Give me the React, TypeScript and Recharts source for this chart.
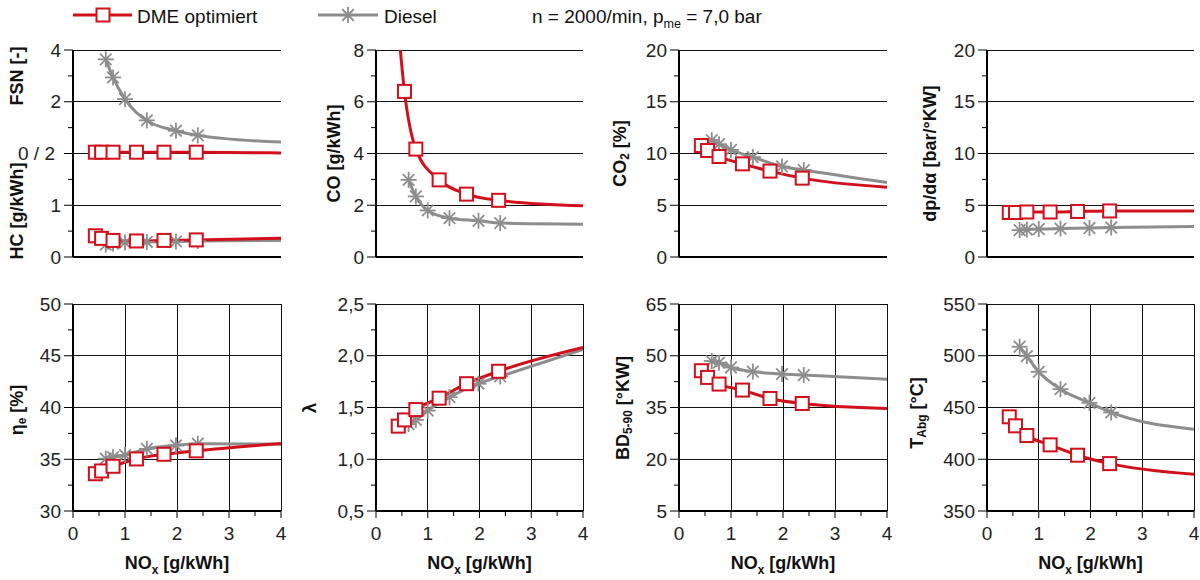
import React from 'react';
import { LineChart, Line, XAxis, YAxis, CartesianGrid } from 'recharts';

const RED = '#d2101b';
const GRAY = '#8d8d8d';
const FONT = '"Liberation Sans", Arial, sans-serif';

// NOx [g/kWh] of the measured points; the last entry is the end of the fitted curve (no marker)
const noxDme = [0.43, 0.55, 0.77, 1.22, 1.75, 2.37, 4.0];
const noxDiesel = [0.63, 0.77, 1.0, 1.42, 1.98, 2.4, 4.0];

const fsnDme = [0.05, 0.05, 0.05, 0.05, 0.05, 0.05, 0.02];
const fsnDiesel = [3.64, 2.94, 2.1, 1.28, 0.88, 0.7, 0.44];
const hcDme = [0.41, 0.36, 0.32, 0.31, 0.32, 0.33, 0.36];
const hcDiesel = [0.24, 0.26, 0.28, 0.29, 0.3, 0.31, 0.32];
const coDme = [8.9, 6.4, 4.17, 2.98, 2.43, 2.19, 1.98];
const coDiesel = [2.98, 2.34, 1.8, 1.5, 1.4, 1.31, 1.27];
const co2Dme = [10.77, 10.29, 9.71, 9.0, 8.3, 7.62, 6.75];
const co2Diesel = [11.3, 10.9, 10.35, 9.65, 8.75, 8.4, 7.2];
const dpDme = [4.3, 4.3, 4.35, 4.35, 4.4, 4.45, 4.45];
const dpDiesel = [2.6, 2.65, 2.7, 2.75, 2.8, 2.85, 2.95];
const etaDme = [33.6, 33.87, 34.32, 35.03, 35.48, 35.81, 36.52];
const etaDiesel = [35.06, 35.2, 35.4, 36.0, 36.35, 36.5, 36.45];
const lambdaDme = [1.32, 1.38, 1.48, 1.59, 1.73, 1.85, 2.08];
const lambdaDiesel = [1.34, 1.38, 1.47, 1.6, 1.73, 1.8, 2.06];
const bdDme = [45.66, 43.72, 41.79, 40.05, 37.62, 36.17, 34.72];
const bdDiesel = [48.47, 47.98, 46.6, 45.4, 44.7, 44.4, 43.2];
const tDme = [441, 432.3, 422.9, 413.9, 403.9, 395.8, 385.5];
const tDiesel = [508.7, 499.7, 484.5, 467.7, 454.5, 445.2, 429];

// axis ticks
const xTicks = [0, 0.5, 1, 1.5, 2, 2.5, 3, 3.5, 4];
const xMajors = [0, 1, 2, 3, 4];
const xLabels = ['0', '1', '2', '3', '4'];

const ticksFsnHc = [0, 0.5, 1, 1.5, 2, 2.5, 3, 3.5, 4];
const majorsFsnHc = [0, 1, 2, 3, 4];
const labelsFsnHc = ['0', '1', '0 / 2', '2', '4'];
const ticksCo = [0, 1, 2, 3, 4, 5, 6, 7, 8];
const majorsCo = [0, 2, 4, 6, 8];
const labelsCo = ['0', '2', '4', '6', '8'];
const ticks20 = [0, 2.5, 5, 7.5, 10, 12.5, 15, 17.5, 20];
const majors20 = [0, 5, 10, 15, 20];
const labels20 = ['0', '5', '10', '15', '20'];
const ticksEta = [30, 32.5, 35, 37.5, 40, 42.5, 45, 47.5, 50];
const majorsEta = [30, 35, 40, 45, 50];
const labelsEta = ['30', '35', '40', '45', '50'];
const ticksLambda = [0.5, 0.75, 1, 1.25, 1.5, 1.75, 2, 2.25, 2.5];
const majorsLambda = [0.5, 1, 1.5, 2, 2.5];
const labelsLambda = ['0,5', '1,0', '1,5', '2,0', '2,5'];
const ticksBd = [5, 12.5, 20, 27.5, 35, 42.5, 50, 57.5, 65];
const majorsBd = [5, 20, 35, 50, 65];
const labelsBd = ['5', '20', '35', '50', '65'];
const ticksT = [350, 375, 400, 425, 450, 475, 500, 525, 550];
const majorsT = [350, 400, 450, 500, 550];
const labelsT = ['350', '400', '450', '500', '550'];

const zip = (xs: number[], ys: number[]) => xs.map((x, i) => ({ x, y: ys[i] }));

const YW = 85;
const MT = 12;
const MR = 6;
const PH = 207;

type Part = [string, boolean];

const Rich = ({ parts, size }: { parts: Part[]; size: number }) => (
  <>
    {parts.map(([t, sub], i) => {
      const prevSub = i > 0 && parts[i - 1][1];
      const dy = sub ? size * 0.25 : prevSub ? -size * 0.25 : 0;
      return (
        <tspan key={i} dy={dy} fontSize={sub ? size * 0.66 : size}>
          {t}
        </tspan>
      );
    })}
  </>
);

const squareDot = (n: number) => (p: any) => {
  const { cx, cy, index } = p;
  if (index === n - 1 || cx == null || cy == null) return <g key={`d${index}`} />;
  return (
    <rect
      key={`d${index}`}
      x={cx - 6.5}
      y={cy - 6.5}
      width={13}
      height={13}
      fill="#fff"
      stroke={RED}
      strokeWidth={2}
    />
  );
};

const Asterisk = ({ cx, cy, r }: { cx: number; cy: number; r: number }) => {
  const d = r * 0.72;
  return (
    <g stroke={GRAY} strokeWidth={1.8}>
      <line x1={cx - r} y1={cy} x2={cx + r} y2={cy} />
      <line x1={cx} y1={cy - r} x2={cx} y2={cy + r} />
      <line x1={cx - d} y1={cy - d} x2={cx + d} y2={cy + d} />
      <line x1={cx - d} y1={cy + d} x2={cx + d} y2={cy - d} />
    </g>
  );
};

const starDot = (n: number) => (p: any) => {
  const { cx, cy, index } = p;
  if (index === n - 1 || cx == null || cy == null) return <g key={`s${index}`} />;
  return (
    <g key={`s${index}`}>
      <Asterisk cx={cx} cy={cy} r={8} />
    </g>
  );
};

const YTick = (props: any) => {
  const { y, payload, majors, labels, shiftIdx } = props;
  const i = majors.indexOf(payload.value);
  const major = i >= 0;
  const extra = major && i === shiftIdx ? 6 : 0;
  return (
    <g>
      <line x1={YW - (major ? 9 : 5)} y1={y} x2={YW} y2={y} stroke="#000" strokeWidth={1} />
      {major && (
        <text
          x={YW - 12 - extra}
          y={y + 6.7}
          textAnchor="end"
          fontFamily={FONT}
          fontSize={19}
          fill="#222"
        >
          {labels[i]}
        </text>
      )}
    </g>
  );
};

const XTick = (props: any) => {
  const { x, payload } = props;
  const i = xMajors.indexOf(payload.value);
  const major = i >= 0;
  const yb = MT + PH;
  return (
    <g>
      <line x1={x} y1={yb} x2={x} y2={yb + (major ? 7 : 5)} stroke="#000" strokeWidth={1} />
      {major && (
        <text x={x} y={yb + 29} textAnchor="middle" fontFamily={FONT} fontSize={19} fill="#222">
          {xLabels[i]}
        </text>
      )}
    </g>
  );
};

type TitleItem = { x: number; y: number; parts: Part[] };

type Series = { xs: number[]; ys: number[]; kind: 'dme' | 'diesel'; axis?: string };
type PanelCfg = {
  L: number;
  T: number;
  W: number;
  bottom: boolean;
  domain: [number, number];
  ticks: number[];
  majors: number[];
  labels: string[];
  shiftIdx?: number;
  titles: TitleItem[];
  series: Series[];
  fsnAxis?: boolean;
};

const panels: PanelCfg[] = [
  {
    L: 73, T: 50, W: 208, bottom: false, domain: [0, 4], ticks: ticksFsnHc, majors: majorsFsnHc, labels: labelsFsnHc, shiftIdx: 2,
    titles: [
      { x: 17, y: 76, parts: [['FSN [-]', false]] },
      { x: 17, y: 211, parts: [['HC [g/kWh]', false]] },
    ],
    fsnAxis: true,
    series: [
      { xs: noxDiesel, ys: fsnDiesel, kind: 'diesel', axis: 'fsn' },
      { xs: noxDiesel, ys: hcDiesel, kind: 'diesel' },
      { xs: noxDme, ys: fsnDme, kind: 'dme', axis: 'fsn' },
      { xs: noxDme, ys: hcDme, kind: 'dme' },
    ],
  },
  {
    L: 376, T: 50, W: 207, bottom: false, domain: [0, 8], ticks: ticksCo, majors: majorsCo, labels: labelsCo,
    titles: [{ x: 334, y: 153.5, parts: [['CO [g/kWh]', false]] }],
    series: [
      { xs: noxDiesel, ys: coDiesel, kind: 'diesel' },
      { xs: noxDme, ys: coDme, kind: 'dme' },
    ],
  },
  {
    L: 679, T: 50, W: 208, bottom: false, domain: [0, 20], ticks: ticks20, majors: majors20, labels: labels20,
    titles: [{ x: 620, y: 153.5, parts: [['CO', false], ['2', true], [' [%]', false]] }],
    series: [
      { xs: noxDiesel, ys: co2Diesel, kind: 'diesel' },
      { xs: noxDme, ys: co2Dme, kind: 'dme' },
    ],
  },
  {
    L: 987, T: 50, W: 207, bottom: false, domain: [0, 20], ticks: ticks20, majors: majors20, labels: labels20,
    titles: [{ x: 930, y: 153.5, parts: [['dp/dα [bar/°KW]', false]] }],
    series: [
      { xs: noxDiesel, ys: dpDiesel, kind: 'diesel' },
      { xs: noxDme, ys: dpDme, kind: 'dme' },
    ],
  },
  {
    L: 73, T: 304, W: 208, bottom: true, domain: [30, 50], ticks: ticksEta, majors: majorsEta, labels: labelsEta,
    titles: [{ x: 17, y: 410, parts: [['η', false], ['e', true], [' [%]', false]] }],
    series: [
      { xs: noxDiesel, ys: etaDiesel, kind: 'diesel' },
      { xs: noxDme, ys: etaDme, kind: 'dme' },
    ],
  },
  {
    L: 376, T: 304, W: 207, bottom: true, domain: [0.5, 2.5], ticks: ticksLambda, majors: majorsLambda, labels: labelsLambda,
    titles: [{ x: 310, y: 408, parts: [['λ', false]] }],
    series: [
      { xs: noxDiesel, ys: lambdaDiesel, kind: 'diesel' },
      { xs: noxDme, ys: lambdaDme, kind: 'dme' },
    ],
  },
  {
    L: 679, T: 304, W: 208, bottom: true, domain: [5, 65], ticks: ticksBd, majors: majorsBd, labels: labelsBd,
    titles: [{ x: 623, y: 408, parts: [['BD', false], ['5-90', true], [' [°KW]', false]] }],
    series: [
      { xs: noxDiesel, ys: bdDiesel, kind: 'diesel' },
      { xs: noxDme, ys: bdDme, kind: 'dme' },
    ],
  },
  {
    L: 987, T: 304, W: 207, bottom: true, domain: [350, 550], ticks: ticksT, majors: majorsT, labels: labelsT,
    titles: [{ x: 917, y: 413, parts: [['T', false], ['Abg', true], [' [°C]', false]] }],
    series: [
      { xs: noxDiesel, ys: tDiesel, kind: 'diesel' },
      { xs: noxDme, ys: tDme, kind: 'dme' },
    ],
  },
];

const Panel = ({ p }: { p: PanelCfg }) => {
  const xH = p.bottom ? 70 : 16;
  return (
    <div style={{ position: 'absolute', left: p.L - YW, top: p.T - MT }}>
      <LineChart
        width={YW + p.W + MR}
        height={MT + PH + xH}
        margin={{ top: MT, right: MR, bottom: 0, left: 0 }}
      >
        <CartesianGrid
          yAxisId="main"
          horizontalValues={p.majors}
          verticalValues={[1, 2, 3, 4]}
          stroke="#111"
          strokeWidth={1}
          shapeRendering="crispEdges"
        />
        <XAxis
          type="number"
          dataKey="x"
          domain={[0, 4]}
          ticks={xTicks}
          interval={0}
          allowDataOverflow
          height={xH}
          tickLine={false}
          axisLine={{ stroke: '#000', strokeWidth: 2 }}
          tick={p.bottom ? <XTick /> : false}
        />
        <YAxis
          yAxisId="main"
          type="number"
          domain={p.domain}
          ticks={p.ticks}
          interval={0}
          allowDataOverflow
          width={YW}
          tickLine={false}
          axisLine={{ stroke: '#000', strokeWidth: 2 }}
          tick={<YTick majors={p.majors} labels={p.labels} shiftIdx={p.shiftIdx ?? -1} />}
        />
        {p.fsnAxis && (
          <YAxis
            yAxisId="fsn"
            orientation="right"
            type="number"
            hide
            width={0}
            tick={false}
            tickLine={false}
            axisLine={false}
            domain={[-4, 4]}
            allowDataOverflow
          />
        )}
        {p.series.map((s, i) => (
          <Line
            key={i}
            yAxisId={s.axis ?? 'main'}
            data={zip(s.xs, s.ys)}
            dataKey="y"
            type="monotone"
            stroke={s.kind === 'dme' ? RED : GRAY}
            strokeWidth={3}
            dot={s.kind === 'dme' ? squareDot(s.xs.length) : starDot(s.xs.length)}
            activeDot={false}
            isAnimationActive={false}
          />
        ))}
      </LineChart>
    </div>
  );
};

const TITLE_SIZE = 18;

const Overlay = () => (
  <svg width={1200} height={580} style={{ position: 'absolute', left: 0, top: 0, pointerEvents: 'none' }}>
    {/* legend */}
    <line x1={73} y1={15} x2={132} y2={15} stroke={RED} strokeWidth={3} />
    <rect x={96.5} y={8.5} width={13} height={13} fill="#fff" stroke={RED} strokeWidth={2} />
    <text x={137} y={23} fontFamily={FONT} fontSize={19} fill="#111">DME optimiert</text>
    <line x1={318} y1={15} x2={378} y2={15} stroke={GRAY} strokeWidth={3} />
    <Asterisk cx={348} cy={15} r={8} />
    <text x={384} y={23} fontFamily={FONT} fontSize={19} fill="#111">Diesel</text>
    <text x={532} y={23} fontFamily={FONT} fontSize={19} fill="#111">
      <Rich parts={[['n = 2000/min, p', false], ['me', true], [' = 7,0 bar', false]]} size={19} />
    </text>
    {/* y axis titles */}
    {panels.flatMap((p, i) =>
      p.titles.map((t, k) => (
        <text
          key={`t${i}-${k}`}
          transform={`translate(${t.x},${t.y}) rotate(-90)`}
          textAnchor="middle"
          dominantBaseline="central"
          fontFamily={FONT}
          fontWeight="bold"
          fontSize={TITLE_SIZE}
          fill="#111"
        >
          <Rich parts={t.parts} size={TITLE_SIZE} />
        </text>
      ))
    )}
    {/* x axis titles */}
    {panels
      .filter((p) => p.bottom)
      .map((p, i) => (
        <text
          key={`x${i}`}
          x={p.L + p.W / 2}
          y={569}
          textAnchor="middle"
          fontFamily={FONT}
          fontWeight="bold"
          fontSize={TITLE_SIZE}
          fill="#111"
        >
          <Rich parts={[['NO', false], ['x', true], [' [g/kWh]', false]]} size={TITLE_SIZE} />
        </text>
      ))}
  </svg>
);

export default function App() {
  return (
    <div style={{ position: 'absolute', left: 0, top: 0, width: 1200, height: 580, background: '#fff', overflow: 'hidden' }}>
      {panels.map((p, i) => (
        <Panel key={i} p={p} />
      ))}
      <Overlay />
    </div>
  );
}
